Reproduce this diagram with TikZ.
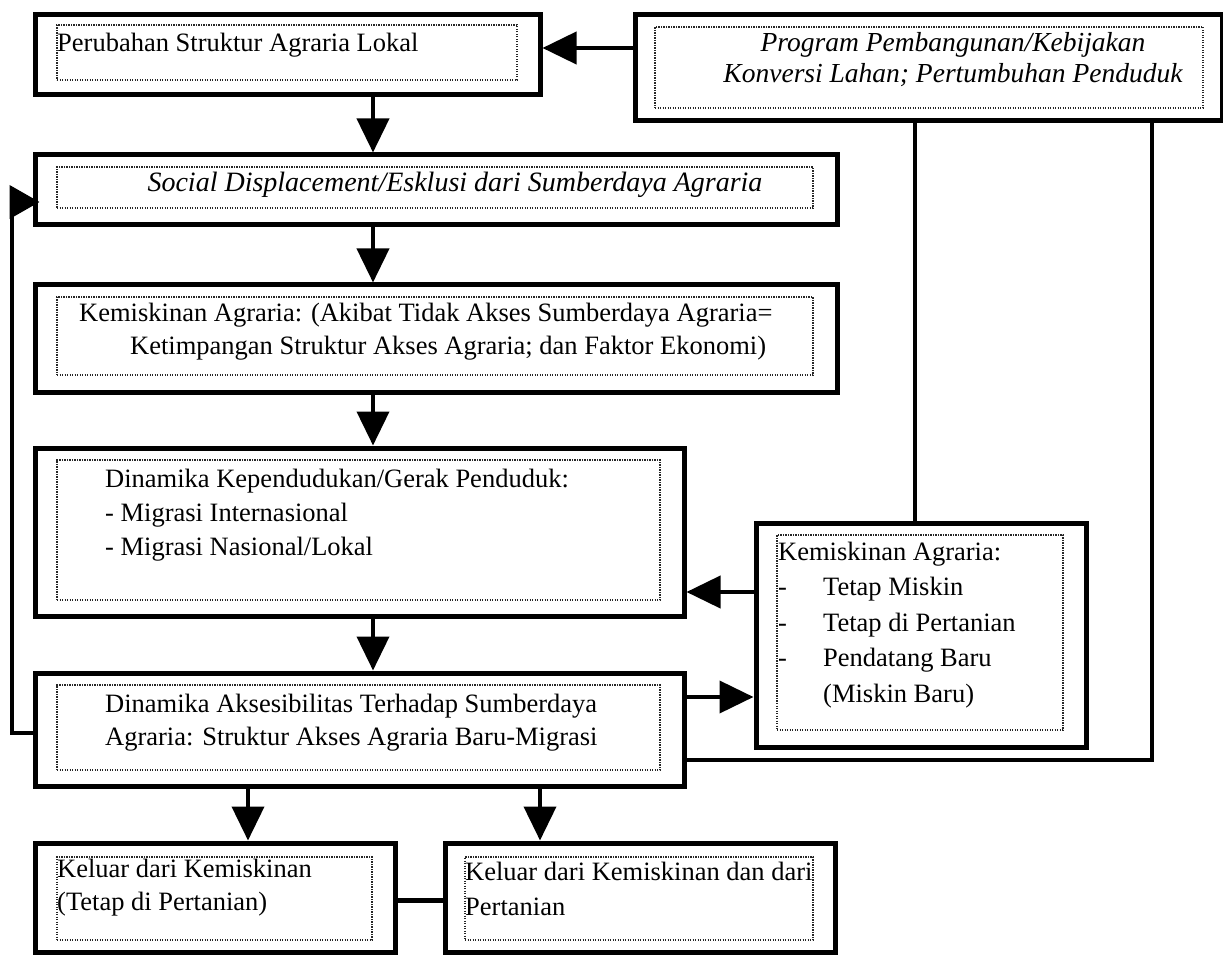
\documentclass[tikz,border=0pt]{standalone}
\usepackage{fontspec}
\setmainfont{Liberation Serif}
\usetikzlibrary{arrows.meta}
\begin{document}
\begin{tikzpicture}[x=1pt,y=-1pt,
    kotak/.style={draw,line width=5pt,inner sep=0pt},
    dalam/.style={draw=black!85,line width=1.3pt,dash pattern=on 1.3pt off 1.2pt,inner sep=0pt},
    isi/.style={inner sep=0pt,anchor=base west,align=left,font=\fontsize{26.5}{33}\selectfont},
    panah/.style={line width=4pt,-{Triangle[width=32pt,length=34pt]}},
    garis/.style={line width=4pt}]
    \useasboundingbox (0,0) rectangle (1223,957);
    \node[kotak,minimum width=505pt,minimum height=80pt] (A) at (287.5,55) {};
    \node[dalam,minimum width=460pt,minimum height=55pt] (A2) at (287,52.5) {};
    \node[kotak,minimum width=587pt,minimum height=106pt] (P) at (928.5,68) {};
    \node[dalam,minimum width=548pt,minimum height=81pt] (P2) at (929,67.5) {};
    \node[kotak,minimum width=802pt,minimum height=70pt] (B) at (436,190) {};
    \node[dalam,minimum width=756pt,minimum height=41pt] (B2) at (435,187.5) {};
    \node[kotak,minimum width=802pt,minimum height=107pt] (C) at (436,338.5) {};
    \node[dalam,minimum width=756pt,minimum height=78pt] (C2) at (435,336) {};
    \node[kotak,minimum width=649pt,minimum height=168pt] (D) at (359.5,532) {};
    \node[dalam,minimum width=603pt,minimum height=140pt] (D2) at (358.5,530) {};
    \node[kotak,minimum width=649pt,minimum height=113pt] (E) at (359.5,729.5) {};
    \node[dalam,minimum width=603pt,minimum height=85pt] (E2) at (358.5,727.5) {};
    \node[kotak,minimum width=330pt,minimum height=224pt] (F) at (921,635) {};
    \node[dalam,minimum width=286pt,minimum height=195pt] (F2) at (920,632.5) {};
    \node[kotak,minimum width=360pt,minimum height=109pt] (G) at (215,897.5) {};
    \node[dalam,minimum width=315pt,minimum height=83pt] (G2) at (214.5,898.5) {};
    \node[kotak,minimum width=390pt,minimum height=109pt] (H) at (640,897.5) {};
    \node[dalam,minimum width=348pt,minimum height=83pt] (H2) at (639,898.5) {};

    \node[isi] (tA) at (57,52) {Perubahan Struktur Agraria Lokal};
    \node[isi,anchor=base,align=center,font=\fontsize{27.5}{31}\selectfont\itshape] (tP) at (953,83) {Program Pembangunan/Kebijakan\\Konversi Lahan; Pertumbuhan Penduduk};
    \node[isi,anchor=base,font=\fontsize{28}{33}\selectfont\itshape] (tB) at (455,192) {Social Displacement/Esklusi dari Sumberdaya Agraria};
    \node[isi] (tC) at (79,355) {Kemiskinan Agraria: (Akibat Tidak Akses Sumberdaya Agraria=\\\hspace*{51pt}Ketimpangan Struktur Akses Agraria; dan Faktor Ekonomi)};
    \node[isi,font=\fontsize{26.5}{34}\selectfont] (tD) at (105,555) {Dinamika Kependudukan/Gerak Penduduk:\\- Migrasi Internasional\\- Migrasi Nasional/Lokal};
    \node[isi] (tE) at (105,745) {Dinamika Aksesibilitas Terhadap Sumberdaya\\Agraria: Struktur Akses Agraria Baru-Migrasi};
    \node[isi,font=\fontsize{26.5}{35.5}\selectfont] (tF) at (778,702) {Kemiskinan Agraria:\\\makebox[45pt][l]{-}Tetap Miskin\\\makebox[45pt][l]{-}Tetap di Pertanian\\\makebox[45pt][l]{-}Pendatang Baru\\\hspace*{45pt}(Miskin Baru)};
    \node[isi] (tG) at (57,910) {Keluar dari Kemiskinan\\(Tetap di Pertanian)};
    \node[isi,font=\fontsize{26.5}{35}\selectfont] (tH) at (465,915) {Keluar dari Kemiskinan dan dari\\Pertanian};

    \coordinate (x1) at (373,0);
    \coordinate (x2) at (248,0);
    \coordinate (x3) at (540,0);
    \coordinate (x4) at (915,0);
    \coordinate (y1) at (0,48);
    \coordinate (y2) at (0,592);
    \coordinate (y3) at (0,697);
    \coordinate (y4) at (0,900);
    \coordinate (y5) at (0,202);
    \coordinate (sudut) at (1152,760);
    \coordinate (balik) at (12,733);

    \draw[panah] (P.west |- y1) -- (A.east |- y1);
    \draw[panah] (A.south -| x1) -- (B.north -| x1);
    \draw[panah] (B.south -| x1) -- (C.north -| x1);
    \draw[panah] (C.south -| x1) -- (D.north -| x1);
    \draw[panah] (D.south -| x1) -- (E.north -| x1);
    \draw[panah] (F.west |- y2) -- (D.east |- y2);
    \draw[panah] (E.east |- y3) -- (F.west |- y3);
    \draw[panah] (E.south -| x2) -- (G.north -| x2);
    \draw[panah] (E.south -| x3) -- (H.north -| x3);
    \draw[garis] (P.south -| x4) -- (F.north -| x4);
    \draw[garis] (P.south -| sudut) -- (sudut) -- (E.east |- sudut);
    \draw[garis,line width=5pt] (G.east |- y4) -- (H.west |- y4);
    \draw[panah,shorten >=-7pt,-{Triangle[width=33pt,length=30pt]}] (E.west |- balik) -- (balik) |- (B.west |- y5);
\end{tikzpicture}
\end{document}
